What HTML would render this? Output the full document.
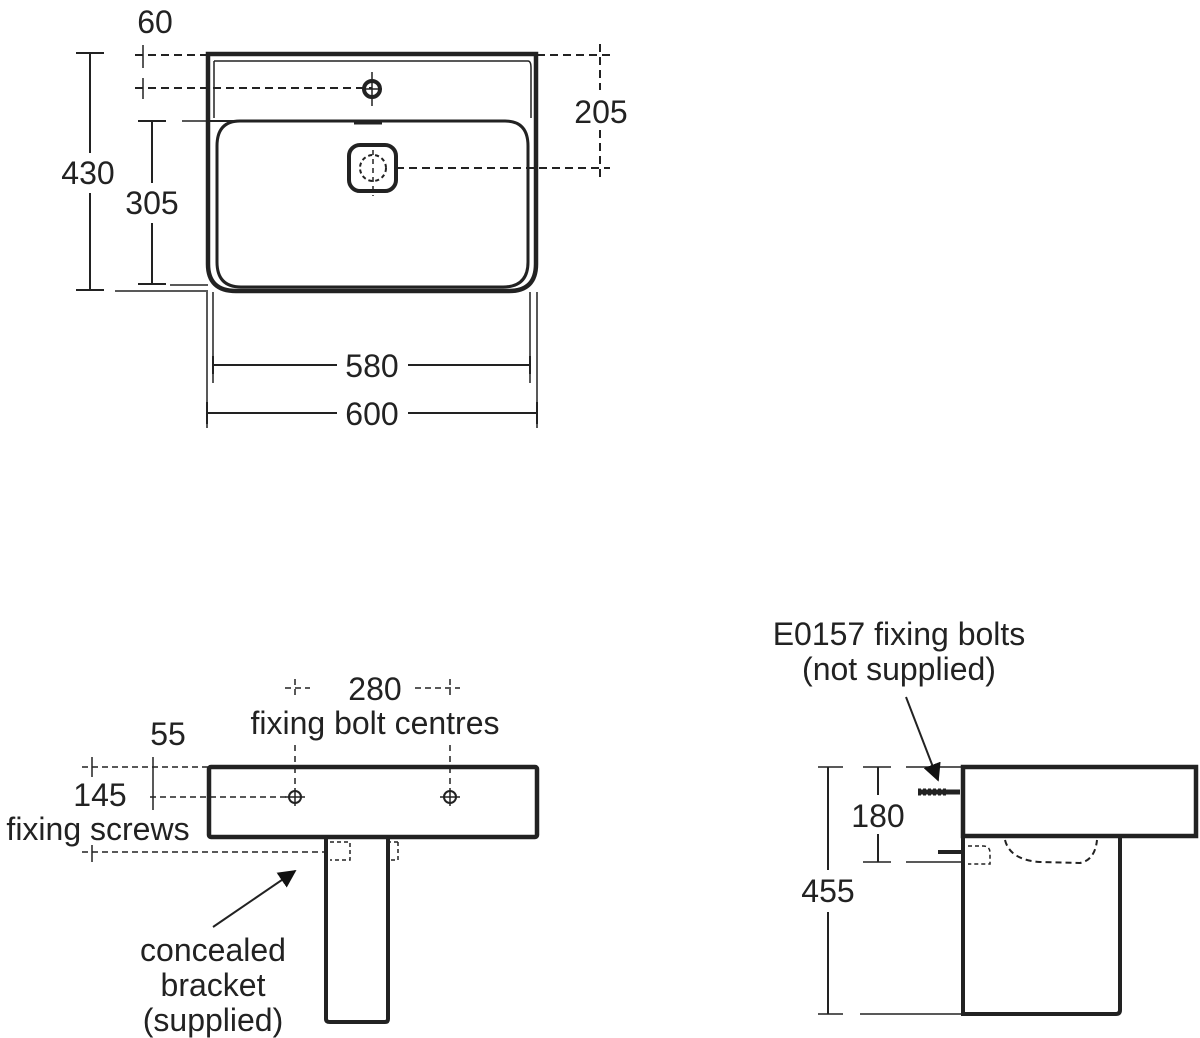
<!DOCTYPE html>
<html><head><meta charset="utf-8">
<style>
html,body{margin:0;padding:0;background:#fff;}
svg{display:block;}
text{font-family:"Liberation Sans",sans-serif;font-size:32px;fill:#222;text-anchor:middle;}
</style></head><body>
<svg width="1200" height="1038" viewBox="0 0 1200 1038" xmlns="http://www.w3.org/2000/svg">
<defs>
<marker id="ah" viewBox="0 0 10 10" refX="9" refY="5" markerWidth="9" markerHeight="9" orient="auto"><path d="M0,0 L10,5 L0,10 z" fill="#111"/></marker>
</defs>
<g fill="none" stroke="#222">
<path d="M208,54 H536 V264 Q536,291 509,291 H236 Q208,291 208,264 Z" stroke-width="4.5"/>
<path d="M214,61 H528 Q531,61 531,68 V118 M214,61 V118" stroke-width="1.5"/>
<path d="M240,121 H505 Q528,121 528,146 V262 Q528,287 503,287 H241 Q217,287 217,262 V146 Q217,121 240,121 Z" stroke-width="3"/>
<path d="M208,121 H240" stroke-width="2"/>
<path d="M354,123 H382" stroke-width="3"/>
<circle cx="372" cy="89" r="8" stroke-width="4"/>
<path d="M372,72 V106 M362,89 H382" stroke-width="1.5"/>
<rect x="349" y="145" width="47" height="46" rx="11" stroke-width="4"/>
<circle cx="373" cy="168" r="13" stroke-width="2" stroke-dasharray="4,3"/>
<path d="M373,150 V196" stroke-width="1.5" stroke-dasharray="5,4"/>
<path d="M90,53 V290 M76,53 H104 M76,290 H104" stroke-width="2"/>
<rect x="55" y="153" width="70" height="40" fill="#fff" stroke="none"/>
<path d="M152,121 V284 M138,121 H166 M138,284 H166" stroke-width="2"/>
<rect x="115" y="183" width="76" height="40" fill="#fff" stroke="none"/>
<path d="M182,121 H208 M170,285 H208 M115,291 H208" stroke-width="1.5"/>
<path d="M135,55 H208 M135,88 H372" stroke-width="2" stroke-dasharray="8,5"/>
<path d="M143,45 V68 M143,78 V99" stroke-width="1.5"/>
<path d="M537,55 H610 M396,168 H610" stroke-width="2" stroke-dasharray="8,5"/>
<path d="M600,44 V90 M600,130 V180" stroke-width="2" stroke-dasharray="8,5"/>
<path d="M213,292 V383 M530,292 V383" stroke-width="1.5"/>
<path d="M213,365 H337 M408,365 H530 M213,356 V374 M530,356 V374" stroke-width="2"/>
<path d="M207,292 V428 M537,292 V428" stroke-width="1.5"/>
<path d="M207,413 H337 M408,413 H537 M207,402 V424 M537,402 V424" stroke-width="2"/>

<rect x="209" y="767" width="328" height="70" rx="2" stroke-width="4.5"/>
<path d="M326,838 V1019 Q326,1022 330,1022 H385 Q388,1022 388,1019 V838" stroke-width="4"/>
<path d="M330,842 H350 V860 H330 M398,842 H388 M398,842 V860 H388" stroke-width="1.5" stroke-dasharray="4,3"/>
<circle cx="295" cy="797" r="6" stroke-width="2"/>
<circle cx="450" cy="797" r="6" stroke-width="2"/>
<path d="M285,797 H305 M295,788 V806 M440,797 H460 M450,788 V806" stroke-width="1.5"/>
<path d="M295,745 V788 M450,745 V788" stroke-width="1.5" stroke-dasharray="6,5"/>
<path d="M285,688 H310 M295,679 V697 M415,688 H460 M450,679 V697" stroke-width="1.5" stroke-dasharray="6,4"/>
<path d="M82,767 H208 M150,797 H290 M82,852 H325" stroke-width="1.5" stroke-dasharray="6,4"/>
<path d="M92,757 V777 M153,757 V810 M92,845 V862" stroke-width="1.5"/>
<path d="M213,927 L295,871" stroke-width="2" marker-end="url(#ah)"/>

<rect x="963" y="767" width="233" height="69" stroke-width="4.5"/>
<path d="M963,836 V1014 H1116 Q1120,1014 1120,1010 V836" stroke-width="4"/>
<path d="M1005,840 Q1010,860 1040,862 L1080,863 Q1095,860 1097,840" stroke-width="2" stroke-dasharray="6,4"/>
<path d="M968,846 H983 Q990,846 990,853 V864 H968" stroke-width="1.5" stroke-dasharray="4,3"/>
<path d="M818,767 H843 M863,767 H891 M906,767 H963 M818,1014 H843 M860,1014 H963 M863,862 H891 M906,862 H963" stroke-width="1.5"/>
<path d="M828,767 V870 M828,912 V1014" stroke-width="2"/>
<path d="M878,767 V795 M878,834 V862" stroke-width="2"/>
<path d="M918,792 H960" stroke-width="5"/>
<path d="M918,792 H946" stroke-width="7" stroke-dasharray="3,2"/>
<path d="M938,852 H962" stroke-width="4"/>
<path d="M906,697 L938,780" stroke-width="2" marker-end="url(#ah)"/>
</g>
<text x="155" y="33">60</text>
<text x="88" y="184">430</text>
<text x="152" y="214">305</text>
<text x="601" y="123">205</text>
<text x="372" y="377">580</text>
<text x="372" y="425">600</text>
<text x="375" y="700">280</text>
<text x="375" y="734">fixing bolt centres</text>
<text x="168" y="745">55</text>
<text x="100" y="806">145</text>
<text x="98" y="840">fixing screws</text>
<text x="213" y="961">concealed</text>
<text x="213" y="996">bracket</text>
<text x="213" y="1031">(supplied)</text>
<text x="899" y="645">E0157 fixing bolts</text>
<text x="899" y="680">(not supplied)</text>
<text x="878" y="827">180</text>
<text x="828" y="902">455</text>
</svg>
</body></html>
